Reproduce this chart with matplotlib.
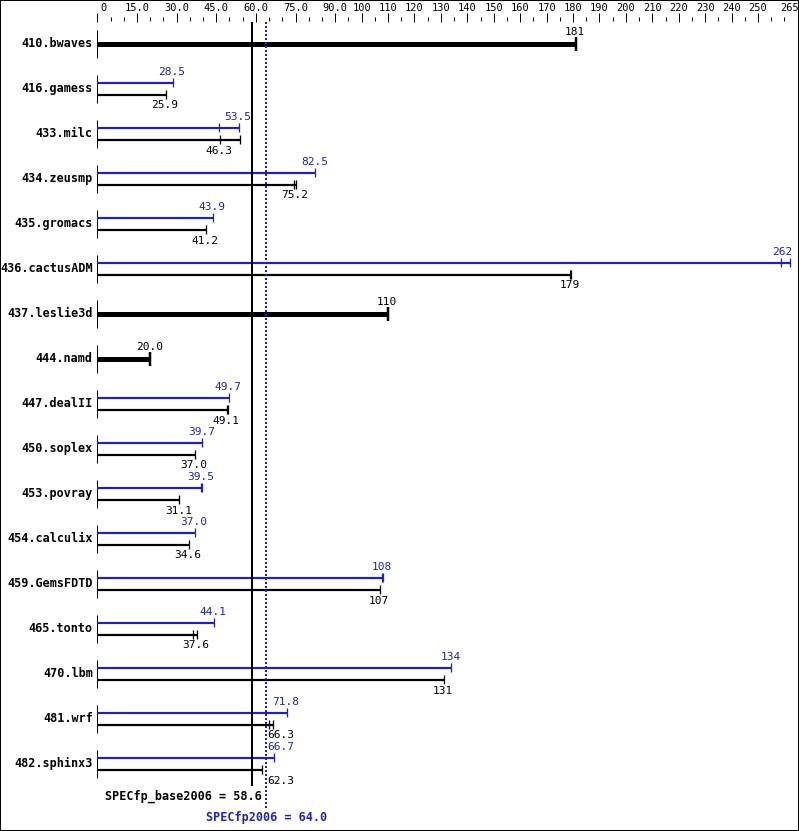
import matplotlib
matplotlib.use('Agg')
import matplotlib.pyplot as plt
from matplotlib.patches import Rectangle

# data
benchmarks = ['410.bwaves', '416.gamess', '433.milc', '434.zeusmp', '435.gromacs',
              '436.cactusADM', '437.leslie3d', '444.namd', '447.dealII', '450.soplex',
              '453.povray', '454.calculix', '459.GemsFDTD', '465.tonto', '470.lbm',
              '481.wrf', '482.sphinx3']
# None -> base only (peak same as base)
peak_vals = [None, 28.5, 53.5, 82.5, 43.9, 262, None, None, 49.7, 39.7,
             39.5, 37.0, 108, 44.1, 134, 71.8, 66.7]
base_vals = [181, 25.9, 46.3, 75.2, 41.2, 179, 110, 20.0, 49.1, 37.0,
             31.1, 34.6, 107, 37.6, 131, 66.3, 62.3]
# individual run ticks
peak_runs = [[], [28.5], [46.0, 53.5], [82.5], [43.9], [258.7, 262], [], [], [49.7], [39.7],
             [39.3, 39.7], [37.0], [107.7, 108.2], [44.1], [134], [71.8], [66.7]]
base_runs = [[181], [25.9], [46.3, 53.9], [74.6, 75.2], [41.2], [178.8, 179.3], [110], [20.0],
             [48.9, 49.3], [37.0], [31.1], [34.6], [107], [36.1, 37.6], [131], [64.9, 66.3], [62.3]]
base_score = 58.6
peak_score = 64.0
major_ticks = [0, 15, 30, 45, 60, 75, 90] + list(range(100, 251, 10)) + [265]
major_labels = ['0', '15.0', '30.0', '45.0', '60.0', '75.0', '90.0'] + \
               [str(v) for v in range(100, 251, 10)] + ['265']

W, H = 799, 831
X0, PX = 97.3, 2.643   # pixel of value 0, pixels per unit
BLUE = '#2222b0'
MONO = 'DejaVu Sans Mono'
PT = 0.72  # one pixel in points

fig = plt.figure(figsize=(W / 100, H / 100), dpi=100)
ax = fig.add_axes([0, 0, 1, 1])
ax.set_xlim(-X0 / PX, (W - X0) / PX)
ax.set_ylim(H, 0)
ax.axis('off')

def px(v):
    return v / PX

# top scale
for t, lab in zip(major_ticks, major_labels):
    ax.vlines(t, 13, 22, color='black', lw=PT)
    if lab == '0':
        ax.text(t + px(3), 8, lab, ha='left', va='center', family=MONO, size=7.5)
    elif t == 265:
        ax.text(t - px(8), 8, lab, ha='center', va='center', family=MONO, size=7.5)
    else:
        ax.text(t, 8, lab, ha='center', va='center', family=MONO, size=7.5)
for t in range(5, 265, 5):
    if t not in major_ticks:
        ax.vlines(t, 16.5, 20.5, color='black', lw=PT)

def fmt(v):
    return f'{v:g}' if v >= 100 else f'{v:.1f}'

def value_label(v, y, color='black'):
    x = min(v, 259.5) - px(1)
    half = px(13)
    # keep the number clear of the two score lines
    if x + half > base_score and x - half < peak_score:
        ax.text(peak_score + px(1), y, fmt(v), ha='left', va='center',
                family=MONO, size=8, color=color)
    else:
        ax.text(x, y, fmt(v), ha='center', va='center', family=MONO, size=8, color=color)

for i, name in enumerate(benchmarks):
    yc = 43.5 + 45 * i
    ax.text(px(-4.5), yc, name, ha='right', va='center', family=MONO,
            fontweight='bold', size=8.5)
    ax.vlines(0, yc - 14, yc + 14, color='black', lw=PT)
    b = base_vals[i]
    p = peak_vals[i]
    if p is None:
        ax.hlines(yc, 0, max(base_runs[i]), color='black', lw=5 * PT)
        for r in base_runs[i]:
            ax.vlines(r, yc - 7, yc + 7, color='black', lw=2.5 * PT)
        value_label(b, yc - 11.5)
    else:
        yp, yb = yc - 6, yc + 6
        ax.hlines(yp, 0, max(peak_runs[i]), color=BLUE, lw=2.2 * PT)
        for r in peak_runs[i]:
            ax.vlines(r, yp - 4.5, yp + 4.5, color=BLUE, lw=1.3 * PT)
        ax.hlines(yb, 0, max(base_runs[i]), color='black', lw=2.2 * PT)
        for r in base_runs[i]:
            ax.vlines(r, yb - 4.5, yb + 4.5, color='black', lw=1.3 * PT)
        value_label(p, yp - 10.5, BLUE)
        value_label(b, yb + 11)

# overall scores
ax.vlines(base_score, 22, 786, color='black', lw=2 * PT)
ax.vlines(peak_score, 22, 808, color=BLUE, lw=2 * PT, linestyles=[(0, (1, 1))])
ax.text(base_score + px(10), 796, f'SPECfp_base2006 = {base_score:.1f}', ha='right',
        va='center', family=MONO, fontweight='bold', size=8.5)
ax.text(peak_score, 817, f'SPECfp2006 = {peak_score:.1f}', ha='center',
        va='center', family=MONO, fontweight='bold', size=8.5, color=BLUE)

fig.add_artist(Rectangle((0, 0), 1, 1, transform=fig.transFigure, fill=False,
                         lw=2 * PT, ec='black'))

fig.savefig('out.png', dpi=100)
